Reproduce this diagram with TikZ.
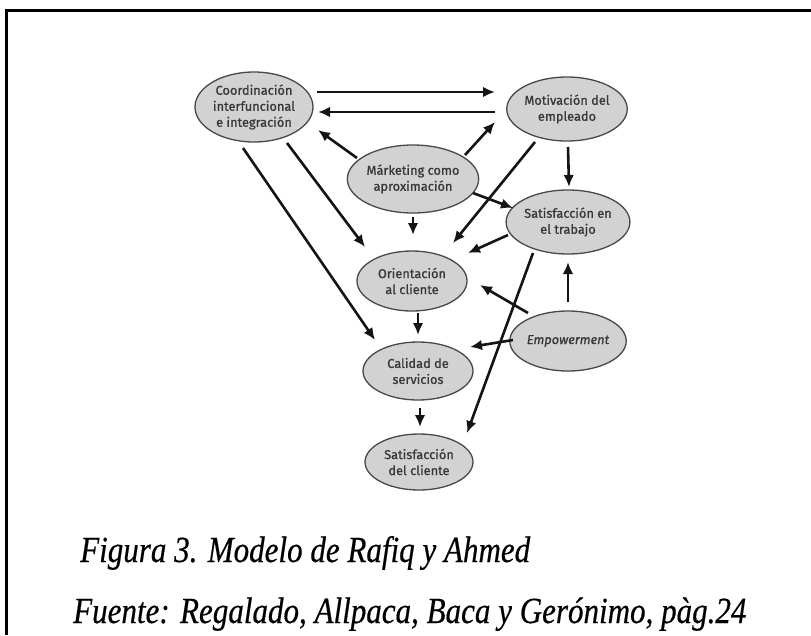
\documentclass[tikz,border=0pt]{standalone}
\usepackage{fontspec}
\setmainfont{Liberation Serif}
\newfontfamily\nodefont[FakeBold=0.9]{Fira Sans}
\newfontfamily\capfont[FakeBold=0.5]{Liberation Serif}
\usetikzlibrary{shapes.geometric,arrows.meta}
\definecolor{nodefill}{HTML}{D2D2D2}
\definecolor{nodeline}{HTML}{484848}
\definecolor{nodetext}{HTML}{383838}
\tikzset{
  bubble/.style={ellipse, draw=nodeline, line width=1.3pt, fill=nodefill, inner sep=0pt,
    align=center, text=nodetext, font=\nodefont\fontsize{12.8}{16}\selectfont},
  conn/.style={line width=2.6pt, color=black!92, -{Latex[length=12pt,width=10.5pt]}},
  caption/.style={anchor=base west, inner sep=0pt, font=\capfont\fontsize{32}{36}\selectfont\itshape}
}
\begin{document}
\begin{tikzpicture}[x=1pt,y=-1pt]
\useasboundingbox (0,0) rectangle (811,635);
\fill[white] (0,0) rectangle (811,635);
% frame
\draw[line width=2.8pt] (811,10.5) -- (6.5,10.5) -- (6.5,635);
% nodes
\node[bubble, minimum width=118pt, minimum height=70pt] (coord) at (254,107) {Coordinación\\interfuncional\\e integración};
\node[bubble, minimum width=120pt, minimum height=64pt] (motiv) at (567,109) {Motivación del\\empleado};
\node[bubble, minimum width=124pt, minimum height=68pt] (mkt) at (413,179) {Márketing como\\aproximación};
\node[bubble, minimum width=110pt, minimum height=64pt] (sattr) at (568,222) {Satisfacción en\\el trabajo};
\node[bubble, minimum width=110pt, minimum height=60pt] (orient) at (412,281) {Orientación\\al cliente};
\node[bubble, minimum width=110pt, minimum height=60pt] (empow) at (568,341) {\itshape Empowerment};
\node[bubble, minimum width=110pt, minimum height=58pt] (calid) at (418,371) {Calidad de\\servicios};
\node[bubble, minimum width=108pt, minimum height=56pt] (satcl) at (419,462) {Satisfacción\\del cliente};
% connectors
\draw[conn] ([shift={(63,-15)}]coord.center) -- ([shift={(-72,-17)}]motiv.center);
\draw[conn] ([shift={(-72,3)}]motiv.center) -- ([shift={(64,5)}]coord.center);
\draw[conn] ([shift={(-56,-21)}]mkt.center) -- ([shift={(64,23)}]coord.center);
\draw[conn] ([shift={(52,-24)}]mkt.center) -- ([shift={(-72,13)}]motiv.center);
\draw[conn] ([shift={(0,38)}]mkt.center) -- ([shift={(1,-46)}]orient.center);
\draw[conn] ([shift={(60,14)}]mkt.center) -- ([shift={(-55,-14)}]sattr.center);
\draw[conn] ([shift={(-32,33)}]motiv.center) -- ([shift={(41,-38)}]orient.center);
\draw[conn] ([shift={(1,38)}]motiv.center) -- ([shift={(1,-35)}]sattr.center);
\draw[conn] ([shift={(33,36)}]coord.center) -- ([shift={(-47,-34)}]orient.center);
\draw[conn] ([shift={(-11,41)}]coord.center) -- ([shift={(-43,-31)}]calid.center);
\draw[conn] ([shift={(-60,13)}]sattr.center) -- ([shift={(56,-28)}]orient.center);
\draw[conn] ([shift={(-35,31)}]sattr.center) -- ([shift={(48,-29)}]satcl.center);
\draw[conn] ([shift={(-40,-28)}]empow.center) -- ([shift={(68,4)}]orient.center);
\draw[conn] ([shift={(0,-39)}]empow.center) -- ([shift={(0,40)}]sattr.center);
\draw[conn] ([shift={(-55,-1)}]empow.center) -- ([shift={(52,-24)}]calid.center);
\draw[conn] ([shift={(6,32)}]orient.center) -- ([shift={(0,-36)}]calid.center);
\draw[conn] ([shift={(2,37)}]calid.center) -- ([shift={(1,-35)}]satcl.center);
% captions
\node[caption] (cap1) at (80,562) {\scalebox{0.97}[1.15]{Figura 3. Modelo de Rafiq y Ahmed}};
\node[caption] (cap2) at (73,623) {\scalebox{0.97}[1.15]{Fuente: Regalado, Allpaca, Baca y Gerónimo, pàg.24}};
\end{tikzpicture}
\end{document}
